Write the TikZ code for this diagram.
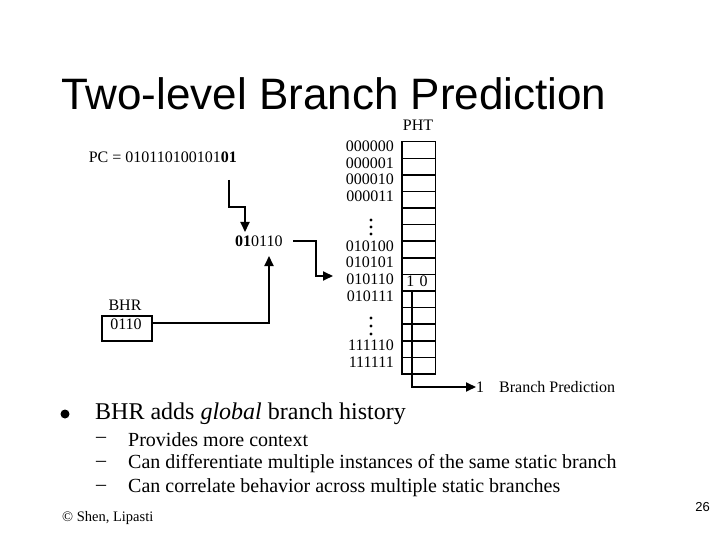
\documentclass[tikz,border=0pt]{standalone}
\usepackage{fontspec}
\setmainfont{Liberation Serif}
\newfontfamily\arialf{Liberation Sans}
\usetikzlibrary{arrows.meta}
\begin{document}
\begin{tikzpicture}[x=1pt,y=-1pt,
  fig/.style={font=\fontsize{16}{16}\selectfont, inner sep=0pt},
  lbl/.style={fig, anchor=east},
  wire/.style={line width=1.8pt},
  arr/.style={wire, -{Triangle[length=10pt,width=9pt]}},
  tbl/.style={line width=1.5pt},
  dotm/.style={circle, fill, inner sep=0pt, minimum size=3.2pt},
  sub/.style={anchor=west, inner sep=0pt, font=\fontsize{20}{20}\selectfont}]
\useasboundingbox (0,0) rectangle (720,540);
% title
\node[anchor=west, inner sep=0pt, font=\arialf\fontsize{44}{44}\selectfont] (title) at (61,94) {Two-level Branch Prediction};
% PC
\node[fig, anchor=east, font=\fontsize{16}{16}\selectfont] (pc) at (237,157) {PC = 010110100101\textbf{01}};
\coordinate (pcd) at (229,180);
\node[fig, anchor=west] (idx) at (235,241) {\textbf{01}0110};
\coordinate (idxtop) at (245,232);
\draw[arr] (pcd) |- (237,207) -| (idxtop);
% BHR
\node[fig] (bhrl) at (125,305) {BHR};
\draw[tbl] (102,316) rectangle (152,341);
\node[fig] (bhr) at (126,324) {0110};
\coordinate (bhrr) at (152,323);
\coordinate (idxbot) at (269,256);
\draw[arr] (bhrr) -| (idxbot);
% PHT
\node[fig] (pht) at (418,125) {PHT};
\foreach \i in {0,...,13} {
  \draw[tbl] (402,{141.7+16.59*\i}) rectangle (435.7,{141.7+16.59*(\i+1)});
}
\foreach \i/\t in {0/000000,1/000001,2/000010,3/000011,6/010100,7/010101,8/010110,9/010111,12/111110,13/111111} {
  \node[lbl] (r\i) at (394,{146.5+16.59*\i}) {\t};
}
\foreach \y in {220,227,234,318,326,334} { \node[dotm] at (371,\y) {}; }
\node[fig] (hist) at (417,281) {1\,\,0};
% index to PHT
\coordinate (idxr) at (293,241);
\coordinate (rowin) at (333,276);
\draw[arr] (idxr) -| (316,258) |- (rowin);
% output
\coordinate (pout) at (411.7,290.7);
\node[fig, anchor=west] (bp) at (476,387) {1\hspace{15pt}Branch Prediction};
\draw[arr] (pout) |- (bp.west);
% bullets
\node[circle, fill, inner sep=0pt, minimum size=9pt] (bul) at (65,414) {};
\node[anchor=west, inner sep=0pt, font=\fontsize{24}{24}\selectfont] (b1) at (95,414) {BHR adds \textit{global} branch history};
\foreach \y/\t in {440/Provides more context,464/Can differentiate multiple instances of the same static branch,488/Can correlate behavior across multiple static branches} {
  \node[sub] at (96,\y) {--};
  \node[sub] at (128,\y) {\t};
}
% footer
\node[anchor=west, inner sep=0pt, font=\fontsize{14.5}{14.5}\selectfont] (foot) at (62,518) {\textcopyright{} Shen, Lipasti};
\node[anchor=east, inner sep=0pt, font=\arialf\fontsize{13}{13}\selectfont] (pg) at (710,507) {26};
\end{tikzpicture}
\end{document}
